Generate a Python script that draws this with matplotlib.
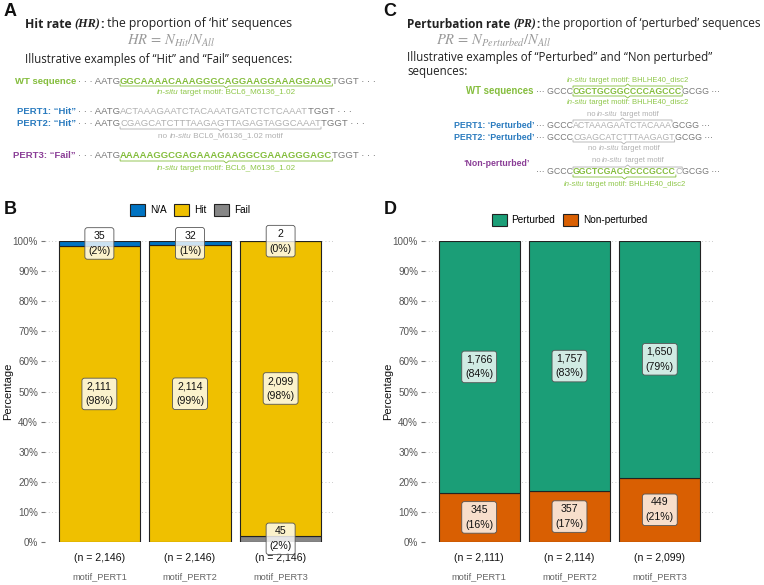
import matplotlib
matplotlib.use('Agg')
import matplotlib.pyplot as plt
import numpy as np
from matplotlib.patches import Patch

W, H = 764, 585
plt.rcParams['mathtext.fontset'] = 'stix'
plt.rcParams['font.family'] = ['Liberation Sans', 'DejaVu Sans']

# ---------------- data ----------------
motifs = ['motif_PERT1', 'motif_PERT2', 'motif_PERT3']
hr_labels = ['N/A', 'Hit', 'Fail']
hr_na = [35, 32, 2]
hr_hit = [2111, 2114, 2099]
hr_fail = [0, 0, 45]
pr_labels = ['Perturbed', 'Non-perturbed']
pr_pert = [1766, 1757, 1650]
pr_non = [345, 357, 449]
pct_ticks = [0, 10, 20, 30, 40, 50, 60, 70, 80, 90, 100]

HR_COL = {'N/A': '#0073C2', 'Hit': '#EFC000', 'Fail': '#868686'}
PR_COL = {'Perturbed': '#1B9E77', 'Non-perturbed': '#D95F02'}

GREEN = '#84bd3c'
GREEN_L = '#8fc74a'
BLUE = '#2a7bbf'
PURPLE = '#8a3d96'
GRAY = '#7a7a7a'
LGRAY = '#b0b0b0'

fig = plt.figure(figsize=(W / 100, H / 100), dpi=100)
ov = fig.add_axes([0, 0, 1, 1])
ov.set_xlim(0, W)
ov.set_ylim(H, 0)
ov.axis('off')
R = fig.canvas.get_renderer()


def run(x, y, pieces, align='left', fs=7.0, family='Liberation Sans'):
    arts, exts = [], []
    cx = 0.0
    for p in pieces:
        txt, col = p[0], p[1]
        wt = p[2] if len(p) > 2 else 'normal'
        st = p[3] if len(p) > 3 else 'normal'
        fam = p[4] if len(p) > 4 else family
        t = ov.text(cx, y, txt, color=col, fontweight=wt, fontstyle=st,
                    fontsize=fs, family=fam, ha='left', va='center')
        bb = t.get_window_extent(R)
        exts.append([cx, cx + bb.width, H - bb.y1, H - bb.y0])
        arts.append(t)
        cx += bb.width
    off = x if align == 'left' else (x - cx if align == 'right' else x - cx / 2)
    for t, e in zip(arts, exts):
        t.set_x(t.get_position()[0] + off)
        e[0] += off
        e[1] += off
    return exts


def bracket(x0, x1, y, col, up=False, d=2.0):
    s = -1 if up else 1
    xm = (x0 + x1) / 2
    xs = [x0, x0, xm - 2.5, xm, xm + 2.5, x1, x1]
    ys = [y - s * d, y, y, y + s * d, y, y, y - s * d]
    ov.plot(xs, ys, color=col, lw=0.6, solid_joinstyle='miter')


# ---------------- panel labels ----------------
for lab, (lx, ly) in zip('ABCD', [(4, 11), (4, 210), (383, 11), (384, 210)]):
    ov.text(lx, ly, lab, fontsize=13, fontweight='bold', ha='left', va='center',
            color='#111111')

TF = 'Open Sans'
DOTS = '\u00b7 \u00b7 \u00b7'
# ---------------- panel A text ----------------
run(25, 24, [('Hit rate ', '#222222', 'bold', 'normal', TF),
             ('(HR)', '#222222', 'bold', 'italic', 'Liberation Serif'),
             (':', '#222222', 'bold', 'normal', TF),
             (' the proportion of \u2018hit\u2019 sequences', '#222222', 'normal', 'normal', TF)],
    fs=8.8)
ov.text(171, 41, r'$HR\,=\,N_{Hit}/N_{All}$', color='#9a9a9a', fontsize=10.5,
        ha='center', va='center')
run(25, 60, [('Illustrative examples of \u201cHit\u201d and \u201cFail\u201d sequences:',
              '#222222', 'normal', 'normal', TF)], fs=8.3)

SFS = 6.8
LX = 76
# WT
y = 81
ov.text(LX, y, 'WT sequence', color=GREEN, fontweight='bold', fontsize=SFS, ha='right', va='center')
e = run(LX + 2, y, [(DOTS + ' AATG', GRAY),
                    ('GGCAAAACAAAGGGCAGGAAGGAAAGGAAG', GREEN, 'bold'),
                    ('TGGT ' + DOTS, GRAY)], fs=SFS)
bracket(e[1][0], e[1][1], e[1][3] + 0.5, GREEN)
run((e[1][0] + e[1][1]) / 2, y + 12, [('in-situ', GREEN_L, 'normal', 'italic'),
                                      (' target motif: BCL6_M6136_1.02', GREEN_L)],
    align='center', fs=5.9)
# PERT1
y = 111
ov.text(LX, y, 'PERT1: \u201cHit\u201d', color=BLUE, fontweight='bold', fontsize=SFS, ha='right', va='center')
run(LX + 2, y, [(DOTS + ' AATG', GRAY),
                ('ACTAAAGAATCTACAAATGATCTCTCAAAT', LGRAY),
                ('TGGT ' + DOTS, GRAY)], fs=SFS)
# PERT2
y = 124
ov.text(LX, y, 'PERT2: \u201cHit\u201d', color=BLUE, fontweight='bold', fontsize=SFS, ha='right', va='center')
e = run(LX + 2, y, [(DOTS + ' AATG', GRAY),
                    ('CGAGCATCTTTAAGAGTTAGAGTAGGCAAAT', LGRAY),
                    ('TGGT ' + DOTS, GRAY)], fs=SFS)
bracket(e[1][0], e[1][1], e[1][3] + 0.5, LGRAY)
run((e[1][0] + e[1][1]) / 2, y + 12, [('no ', LGRAY), ('in-situ', LGRAY, 'normal', 'italic'),
                                      (' BCL6_M6136_1.02 motif', LGRAY)],
    align='center', fs=5.9)
# PERT3
y = 156
ov.text(LX, y, 'PERT3: \u201cFail\u201d', color=PURPLE, fontweight='bold', fontsize=SFS, ha='right', va='center')
e = run(LX + 2, y, [(DOTS + ' AATG', GRAY),
                    ('AAAAAGGCGAGAAAGAAGGCGAAAGGGAGC', GREEN, 'bold'),
                    ('TGGT ' + DOTS, GRAY)], fs=SFS)
bracket(e[1][0], e[1][1], e[1][3] + 0.5, GREEN)
run((e[1][0] + e[1][1]) / 2, y + 12, [('in-situ', GREEN_L, 'normal', 'italic'),
                                      (' target motif: BCL6_M6136_1.02', GREEN_L)],
    align='center', fs=5.9)

# ---------------- panel C text ----------------
run(407, 24, [('Perturbation rate ', '#222222', 'bold', 'normal', TF),
              ('(PR)', '#222222', 'bold', 'italic', 'Liberation Serif'),
              (':', '#222222', 'bold', 'normal', TF),
              (' the proportion of \u2018perturbed\u2019 sequences', '#222222', 'normal', 'normal', TF)],
    fs=8.5)
ov.text(494, 41, r'$PR\,=\,N_{Perturbed}/N_{All}$', color='#9a9a9a', fontsize=10.5,
        ha='center', va='center')
run(407, 58, [('Illustrative examples of \u201cPerturbed\u201d and \u201cNon perturbed\u201d',
               '#222222', 'normal', 'normal', TF)], fs=8.3)
run(407, 71, [('sequences:', '#222222', 'normal', 'normal', TF)], fs=8.3)

CFS = 6.3
CX = 534
MFS = 5.5
CDOTS = '\u00b7\u00b7\u00b7'
# WT
y = 91
ov.text(CX, y, 'WT sequences', color=GREEN, fontweight='bold', fontsize=6.9, ha='right', va='center')
e = run(CX + 2, y, [(CDOTS + ' GCCC', GRAY),
                    ('CGCTGCGGCCCCAGCCC', GREEN, 'bold'),
                    ('GCGG ' + CDOTS, GRAY)], fs=CFS)
bracket(e[1][0], e[1][1], e[1][2] - 0.5, GREEN, up=True)
bracket(e[1][0], e[1][1], e[1][3] + 0.5, GREEN)
mx = (e[1][0] + e[1][1]) / 2
run(mx, y - 11, [('in-situ', GREEN_L, 'normal', 'italic'), (' target motif: BHLHE40_disc2', GREEN_L)],
    align='center', fs=MFS)
run(mx, y + 12, [('in-situ', GREEN_L, 'normal', 'italic'), (' target motif: BHLHE40_disc2', GREEN_L)],
    align='center', fs=MFS)
# PERT1
y = 125
ov.text(CX, y, 'PERT1: \u2018Perturbed\u2019', color=BLUE, fontweight='bold', fontsize=CFS, ha='right', va='center')
e = run(CX + 2, y, [(CDOTS + ' GCCC', GRAY),
                    ('ACTAAAGAATCTACAAA', LGRAY),
                    ('GCGG ' + CDOTS, GRAY)], fs=CFS)
bracket(e[1][0], e[1][1], e[1][2] - 0.5, LGRAY, up=True)
run((e[1][0] + e[1][1]) / 2, y - 11, [('no ', LGRAY), ('in-situ', LGRAY, 'normal', 'italic'),
                                      (' target motif', LGRAY)], align='center', fs=MFS)
# PERT2
y = 137
ov.text(CX, y, 'PERT2: \u2018Perturbed\u2019', color=BLUE, fontweight='bold', fontsize=CFS, ha='right', va='center')
e = run(CX + 2, y, [(CDOTS + ' GCCC', GRAY),
                    ('CGAGCATCTTTAAGAGT', LGRAY),
                    ('GCGG ' + CDOTS, GRAY)], fs=CFS)
bracket(e[1][0], e[1][1], e[1][3] + 0.5, LGRAY)
run((e[1][0] + e[1][1]) / 2, y + 11, [('no ', LGRAY), ('in-situ', LGRAY, 'normal', 'italic'),
                                      (' target motif', LGRAY)], align='center', fs=MFS)
# Non-perturbed
y = 172
ov.text(CX - 4, y - 9, '\u2018Non-perturbed\u2019', color=PURPLE, fontweight='bold', fontsize=CFS,
        ha='right', va='center')
e = run(CX + 2, y, [(CDOTS + ' GCCC', GRAY),
                    ('GGCTCGACGCCCGCCC', GREEN, 'bold'),
                    ('C', LGRAY),
                    ('GCGG ' + CDOTS, GRAY)], fs=CFS)
bracket(e[1][0], e[2][1], e[1][2] - 0.5, LGRAY, up=True)
run((e[1][0] + e[2][1]) / 2, y - 11, [('no ', LGRAY), ('in-situ', LGRAY, 'normal', 'italic'),
                                      (' target motif', LGRAY)], align='center', fs=MFS)
bracket(e[1][0], e[1][1], e[1][3] + 0.5, GREEN)
run((e[1][0] + e[1][1]) / 2, y + 12, [('in-situ', GREEN_L, 'normal', 'italic'),
                                      (' target motif: BHLHE40_disc2', GREEN_L)],
    align='center', fs=MFS)


# ---------------- bar charts ----------------
def stacked(rect, layers, names, colors, legend_order, legend_y):
    ax = fig.add_axes(rect)
    x = np.arange(1, len(motifs) + 1)
    arr = np.array(layers, dtype=float)
    totals = arr.sum(axis=0)
    bottom = np.zeros(len(x))
    for vals, col in zip(arr, colors):
        frac = vals / totals
        ax.bar(x, frac, 0.9, bottom=bottom, color=col, edgecolor='#222222', lw=0.8, zorder=2)
        for xi, b, f, v in zip(x, bottom, frac, vals):
            if v > 0:
                ax.text(xi, b + f / 2, f"{int(v):,}\n({round(f * 100):.0f}%)", ha='center',
                        va='center', fontsize=7.6, linespacing=1.6, color='#111111',
                        bbox=dict(boxstyle='round,pad=0.32,rounding_size=0.25',
                                  fc=(1, 1, 1, 0.8), ec='#555555', lw=0.6),
                        zorder=5, clip_on=False)
        bottom += frac
    ax.set_xlim(0.4, 3.6)
    ax.set_ylim(0, 1)
    ax.set_yticks(np.array(pct_ticks) / 100)
    ax.set_yticklabels([f"{p}%" for p in pct_ticks])
    ax.set_xticks([])
    for s in ax.spines.values():
        s.set_visible(False)
    ax.yaxis.grid(True, ls=(0, (1, 3)), color='#bbbbbb', lw=0.6)
    ax.set_axisbelow(True)
    ax.tick_params(axis='y', length=3, color='#777777', labelcolor='#555555', labelsize=7.1, pad=2)
    ax.patch.set_alpha(0)
    tr = ax.get_xaxis_transform()
    for xi, n, m in zip(x, totals, motifs):
        ax.text(xi, -0.053, f"(n = {int(n):,})", transform=tr, ha='center', va='center',
                fontsize=7.6, color='#111111')
        ax.text(xi, -0.116, m, transform=tr, ha='center', va='center', fontsize=6.7,
                color='#666666')
    cmap = dict(zip(names, colors))
    handles = [Patch(fc=cmap[k], ec='#222222', lw=0.8, label=k) for k in legend_order]
    ax.legend(handles=handles, ncol=len(handles), loc='center', bbox_to_anchor=(0.5, legend_y),
              frameon=False, fontsize=7.2, handlelength=1.45, handleheight=1.45,
              columnspacing=0.8, handletextpad=0.5)
    return ax


top = 1 - 241 / H
bot = 1 - 542 / H
axB = stacked([45 / W, bot, 290 / W, top - bot],
              [hr_fail, hr_hit, hr_na], ['Fail', 'Hit', 'N/A'],
              [HR_COL['Fail'], HR_COL['Hit'], HR_COL['N/A']], hr_labels, 1.103)
axD = stacked([425 / W, bot, 289 / W, top - bot],
              [pr_non, pr_pert], ['Non-perturbed', 'Perturbed'],
              [PR_COL['Non-perturbed'], PR_COL['Perturbed']], pr_labels, 1.07)

ov.text(8, 391, 'Percentage', rotation=90, fontsize=8, ha='center', va='center', color='#111111')
ov.text(388, 391, 'Percentage', rotation=90, fontsize=8, ha='center', va='center', color='#111111')

fig.savefig('out.png', dpi=100)
